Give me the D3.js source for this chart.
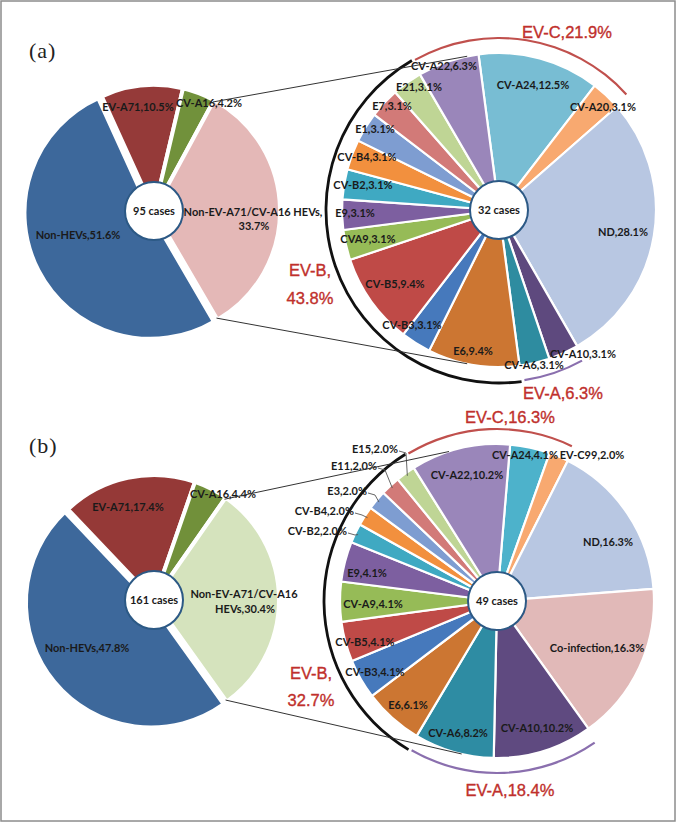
<!DOCTYPE html>
<html><head><meta charset="utf-8">
<script src="https://cdn.jsdelivr.net/npm/d3@7"></script>
<style>
html,body{margin:0;padding:0;background:#fff;}
svg{display:block;}
.lbl{font-family:Lato,"Open Sans",sans-serif;font-weight:700;font-size:11px;fill:#1a1a1a;}
.grp{font-family:"Liberation Sans",Arial,sans-serif;font-size:16.5px;fill:#c0302c;stroke:#c0302c;stroke-width:0.35px;}
.pnl{font-family:"Liberation Serif","Times New Roman",serif;font-size:22px;fill:#222;letter-spacing:1px;}
</style></head><body>
<svg id="chart" width="677" height="824"></svg>
<script>
// ---------------- DATA ----------------
const panelNames = ["(a)", "(b)"];
const totalCases = [95, 161];
const subCases = [32, 49];

const overviewCats = ["EV-A71", "CV-A16", "Non-EV-A71/CV-A16 HEVs", "Non-HEVs"];
const overviewA = [10.5, 4.2, 33.7, 51.6];
const overviewB = [17.4, 4.4, 30.4, 47.8];
const overviewColorsA = ["#953a39", "#71913b", "#e4b8b7", "#3d689b"];
const overviewColorsB = ["#953937", "#71903a", "#d5e3bd", "#3d689b"];

const typesA  = ["CV-A24","CV-A20","ND","CV-A10","CV-A6","E6","CV-B3","CV-B5","CVA9","E9","CV-B2","CV-B4","E1","E7","E21","CV-A22"];
const valuesA = [12.5, 3.1, 28.1, 3.1, 3.1, 9.4, 3.1, 9.4, 3.1, 3.1, 3.1, 3.1, 3.1, 3.1, 3.1, 6.3];
const groupsA = ["C","C","-","A","A","B","B","B","B","B","B","B","B","B","B","C"];
const colorsA = ["#78bdd3","#f8a970","#b8c7e2","#5e497e","#2e8ca0","#cc7632","#4679bc","#bf4a47","#96bb57","#7d5fa0","#3fa9c2","#f2903e","#7e9dd1","#d27a78","#bfd595","#9a86ba"];

const typesB  = ["CV-A24","EV-C99","ND","Co-infection","CV-A10","CV-A6","E6","CV-B3","CV-B5","CV-A9","E9","CV-B2","CV-B4","E3","E11","E15","CV-A22"];
const valuesB = [4.1, 2.0, 16.3, 16.3, 10.2, 8.2, 6.1, 4.1, 4.1, 4.1, 4.1, 2.0, 2.0, 2.0, 2.0, 2.0, 10.2];
const groupsB = ["C","C","-","-","A","A","B","B","B","B","B","B","B","B","B","B","C"];
const colorsB = ["#4db2cb","#f8a970","#b8c7e2","#e1b9b8","#5f4a80","#2e8ca3","#cc7632","#4679bc","#bf4a47","#96bb57","#7d5fa0","#3fa9c2","#f2903e","#7e9dd1","#d27a78","#bfd595","#9a86ba"];

const groupNames = {A: "EV-A", B: "EV-B", C: "EV-C"};
const groupPctA = {A: 6.3, B: 43.8, C: 21.9};
const groupPctB = {A: 18.4, B: 32.7, C: 16.3};

// ---------------- LAYOUT ----------------
const deg = Math.PI / 180;
const panels = [
  {
    name: panelNames[0], nameXY: [29, 58],
    left: {cx: 154, cy: 211, r: 126, start: -24.5, vals: overviewA, colors: overviewColorsA, cases: totalCases[0],
      labels: {
        "EV-A71": [[138, 107]], "CV-A16": [[209, 103]],
        "Non-EV-A71/CV-A16 HEVs": [[253, 212, "Non-EV-A71/CV-A16 HEVs,"], [254, 226, "{v}%"]],
        "Non-HEVs": [[78, 235]]
      }},
    right: {cx: 499, cy: 210, r: 157, start: -7.5, types: typesA, vals: valuesA, groups: groupsA, colors: colorsA, cases: subCases[0],
      pct: groupPctA,
      labels: {
        "CV-A24": [533, 85], "CV-A20": [603, 107], "ND": [623, 232], "CV-A10": [583, 354], "CV-A6": [534, 365],
        "E6": [473, 351], "CV-B3": [412, 325], "CV-B5": [395, 284], "CVA9": [368, 239], "E9": [355, 213],
        "CV-B2": [363, 185], "CV-B4": [367, 157], "E1": [375, 129], "E7": [392, 106], "E21": [419, 87], "CV-A22": [444, 66]
      },
      leaders: {},
      groupLabels: {C: [[567, 32, "{n},{p}%"]], A: [[563, 393, "{n},{p}%"]], B: [[310, 270, "{n},"], [310, 298, "{p}%"]]},
      connectors: [-11.7, 191.7]},
  },
  {
    name: panelNames[1], nameXY: [29, 453],
    left: {cx: 154, cy: 600, r: 125, start: -43.5, vals: overviewB, colors: overviewColorsB, cases: totalCases[1],
      labels: {
        "EV-A71": [[128, 507]], "CV-A16": [[223, 494]],
        "Non-EV-A71/CV-A16 HEVs": [[244, 594, "Non-EV-A71/CV-A16"], [245, 609, "HEVs,{v}%"]],
        "Non-HEVs": [[87, 648]]
      }},
    right: {cx: 497, cy: 601, r: 157, start: 4.8, types: typesB, vals: valuesB, groups: groupsB, colors: colorsB, cases: subCases[1],
      pct: groupPctB,
      labels: {
        "CV-A24": [525, 455], "EV-C99": [592, 455], "ND": [608, 542], "Co-infection": [597, 648], "CV-A10": [537, 728],
        "CV-A6": [458, 733], "E6": [408, 705], "CV-B3": [375, 672], "CV-B5": [365, 642], "CV-A9": [373, 604],
        "E9": [367, 573], "CV-A22": [467, 475]
      },
      leaders: {"E15": [398, 449], "E11": [377, 466], "E3": [367, 491], "CV-B4": [354, 511], "CV-B2": [347, 531]},
      groupLabels: {C: [[510, 417, "{n},{p}%"]], A: [[510, 790, "{n},{p}%"]], B: [[311, 673, "{n},"], [311, 700, "{p}%"]]},
      connectors: [-17.8, 193]},
  }
];

// ---------------- DRAW ----------------
const svg = d3.select("#chart");
svg.append("rect").attr("x", 1).attr("y", 1).attr("width", 674).attr("height", 820)
  .attr("fill", "#fff").attr("stroke", "#8c8c8c").attr("stroke-width", 1.5);

function polar(cx, cy, r, a) { return [cx + r * Math.sin(a), cy - r * Math.cos(a)]; }

panels.forEach(p => {
  svg.append("text").attr("class", "pnl").attr("x", p.nameXY[0]).attr("y", p.nameXY[1]).text(p.name);

  // ---- left overview pie ----
  const L = p.left;
  const pieL = d3.pie().sort(null).value(d => d)
    .startAngle(L.start * deg).endAngle(L.start * deg + 2 * Math.PI);
  const arcsL = pieL(L.vals);
  const arcL = d3.arc().innerRadius(0).outerRadius(L.r);
  const gL = svg.append("g").attr("transform", `translate(${L.cx},${L.cy})`);
  gL.selectAll("path").data(arcsL).join("path")
    .attr("d", arcL)
    .attr("fill", (d, i) => L.colors[i])
    .attr("stroke", "#fff").attr("stroke-width", 4).attr("stroke-linejoin", "round")
    .attr("transform", (d, i) => {
      if (overviewCats[i] !== "Non-HEVs") return null;
      const m = (d.startAngle + d.endAngle) / 2;
      return `translate(${4 * Math.sin(m)},${-4 * Math.cos(m)})`;
    });

  // connectors from Non-EV slice edges to the detail pie
  const R = p.right;
  const nonEv = arcsL[overviewCats.indexOf("Non-EV-A71/CV-A16 HEVs")];
  const edgeR = L.r - 2;
  const c1 = polar(L.cx, L.cy, edgeR, nonEv.startAngle);
  const c2 = polar(L.cx, L.cy, edgeR, nonEv.endAngle);
  const t1 = polar(R.cx, R.cy, R.r, R.connectors[0] * deg);
  const t2 = polar(R.cx, R.cy, R.r, R.connectors[1] * deg);

  gL.append("circle").attr("r", 29).attr("fill", "#fff").attr("stroke", "#2c5985").attr("stroke-width", 2);
  gL.append("text").attr("class", "lbl").attr("text-anchor", "middle").attr("dy", "0.35em").text(`${L.cases} cases`);

  overviewCats.forEach((c, i) => {
    L.labels[c].forEach(pos => {
      const t = pos[2] ? pos[2].replace("{v}", L.vals[i].toFixed(1)) : `${c},${L.vals[i].toFixed(1)}%`;
      svg.append("text").attr("class", "lbl").attr("text-anchor", "middle")
        .attr("x", pos[0]).attr("y", pos[1]).attr("dy", "0.35em").text(t);
    });
  });

  // ---- right detail pie ----
  const pieR = d3.pie().sort(null).value(d => d)
    .startAngle(R.start * deg).endAngle(R.start * deg + 2 * Math.PI);
  const arcsR = pieR(R.vals);
  const arcR = d3.arc().innerRadius(0).outerRadius(R.r);
  const gR = svg.append("g").attr("transform", `translate(${R.cx},${R.cy})`);
  gR.selectAll("path").data(arcsR).join("path")
    .attr("d", arcR)
    .attr("fill", (d, i) => R.colors[i])
    .attr("stroke", "#fff").attr("stroke-width", 2.2).attr("stroke-linejoin", "round");

  // group arcs
  const n = R.types.length;
  ["C", "A", "B"].forEach(g => {
    const idx = R.groups.map((v, i) => v === g ? i : -1).filter(i => i >= 0);
    const wraps = idx.includes(0) && idx.includes(n - 1);
    let a0 = Infinity, a1 = -Infinity;
    idx.forEach(i => {
      let s = arcsR[i].startAngle, e = arcsR[i].endAngle;
      if (wraps && i > n / 2) { s -= 2 * Math.PI; e -= 2 * Math.PI; }
      a0 = Math.min(a0, s); a1 = Math.max(a1, e);
    });
    const isB = g === "B";
    const pad = isB ? 0 : 1 * deg;
    const rad = isB ? 173 : 172;
    const w = isB ? 1.4 : 1.1;
    const ring = d3.arc().innerRadius(rad - w).outerRadius(rad + w).startAngle(a0 + pad).endAngle(a1 - pad);
    gR.append("path").attr("d", ring())
      .attr("fill", g === "C" ? "#c0504d" : g === "A" ? "#8a6fae" : "#111");
    R.groupLabels[g].forEach(pos => {
      svg.append("text").attr("class", "grp").attr("text-anchor", "middle")
        .attr("x", pos[0]).attr("y", pos[1]).attr("dy", "0.35em")
        .text(pos[2].replace("{n}", groupNames[g]).replace("{p}", R.pct[g].toFixed(1)));
    });
  });

  gR.append("circle").attr("r", 29).attr("fill", "#fff").attr("stroke", "#2c5985").attr("stroke-width", 2);
  gR.append("text").attr("class", "lbl").attr("text-anchor", "middle").attr("dy", "0.35em").text(`${R.cases} cases`);

  R.types.forEach((t, i) => {
    const txt = `${t},${R.vals[i].toFixed(1)}%`;
    if (R.labels[t]) {
      svg.append("text").attr("class", "lbl").attr("text-anchor", "middle")
        .attr("x", R.labels[t][0]).attr("y", R.labels[t][1]).attr("dy", "0.35em").text(txt);
    } else if (R.leaders[t]) {
      const [lx, ly] = R.leaders[t];
      svg.append("text").attr("class", "lbl").attr("text-anchor", "end")
        .attr("x", lx).attr("y", ly).attr("dy", "0.35em").text(txt);
      const m = (arcsR[i].startAngle + arcsR[i].endAngle) / 2;
      const tip = polar(R.cx, R.cy, R.r - 3, m);
      svg.append("path").attr("fill", "none").attr("stroke", "#555").attr("stroke-width", 0.9)
        .attr("d", d3.line()([[lx + 1, ly + 2], [lx + 8, ly + 4], tip]));
    }
  });

  // connector lines
  svg.append("path").attr("fill", "none").attr("stroke", "#333").attr("stroke-width", 1)
    .attr("d", d3.line()([c1, t1]));
  svg.append("path").attr("fill", "none").attr("stroke", "#333").attr("stroke-width", 1)
    .attr("d", d3.line()([c2, t2]));
});
</script>
</body></html>
